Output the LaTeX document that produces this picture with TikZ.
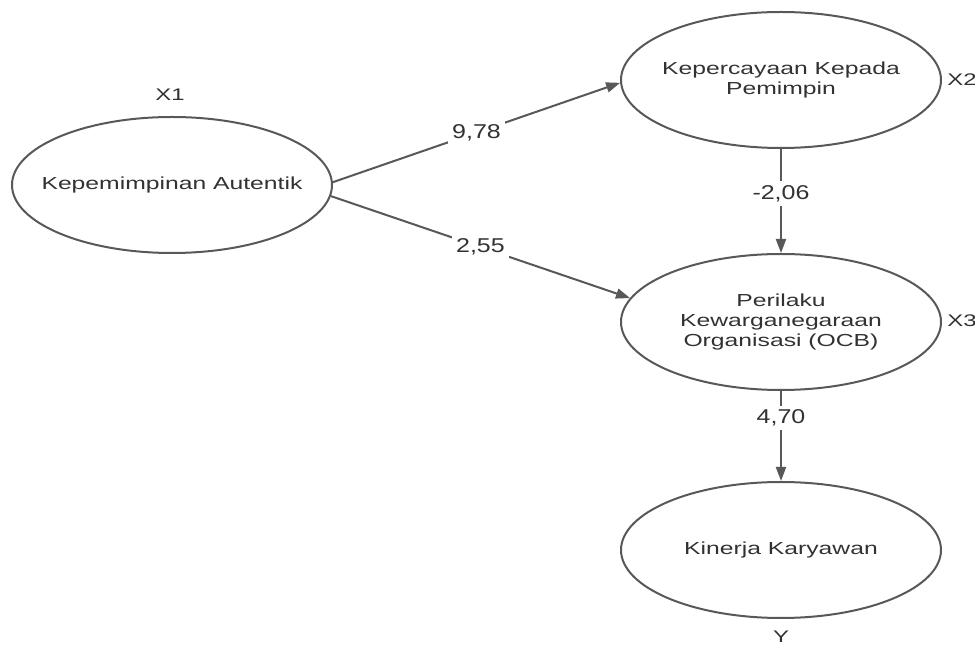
\documentclass[tikz,border=0pt]{standalone}
\usepackage{fontspec}
\setmainfont{Liberation Sans}
\newfontfamily\wideface[FakeStretch=1.42]{Liberation Sans}
\newfontfamily\coefface[FakeStretch=1.25]{Liberation Sans}
\usetikzlibrary{arrows.meta,positioning,shapes.geometric}
\definecolor{pathGray}{RGB}{88,88,88}
\definecolor{textGray}{RGB}{50,50,50}

\begin{document}
\begin{tikzpicture}[x=0.5pt, y=-0.5pt,
    construct/.style={ellipse, draw=pathGray, line width=1pt, fill=white,
                      minimum width=160pt, minimum height=68pt,
                      inner xsep=-12pt, inner ysep=0pt,
                      align=center, text=textGray,
                      font=\wideface\fontsize{8.7}{10}\selectfont},
    tag/.style={text=textGray, inner sep=0pt, font=\wideface\fontsize{8.4}{10}\selectfont},
    link/.style={draw=pathGray, line width=1pt, -{Triangle[length=7pt, width=5pt]}},
    coef/.style={fill=white, text=textGray, inner sep=2pt,
                 font=\coefface\fontsize{10}{12}\selectfont}
  ]
  \useasboundingbox (0,0) rectangle (975,646);

  \node[construct] (x1) at (172,185) {Kepemimpinan Autentik};
  \node[construct] (x2) at (781,80)  {Kepercayaan Kepada\\Pemimpin};
  \node[construct] (x3) at (781,322) {Perilaku\\Kewarganegaraan\\Organisasi (OCB)};
  \node[construct] (y)  at (781,550) {Kinerja Karyawan};

  \node[tag] (tx1) at (170,95) {X1};
  \node[tag, anchor=west] (tx2) at (947,80) {X2};
  \node[tag, anchor=west] (tx3) at (947,321) {X3};
  \node[tag] (ty) at (781,637) {Y};

  \draw[link] (x1.1) -- node[coef] {9,78} (x2.181);
  \draw[link] (x1.-4) -- node[coef] {2,55} (x3.171);
  \draw[link] (x2.south) -- node[coef, pos=0.43] {-2,06} (x3.north);
  \draw[link] (x3.south) -- node[coef, pos=0.3] {4,70} (y.north);
\end{tikzpicture}
\end{document}
